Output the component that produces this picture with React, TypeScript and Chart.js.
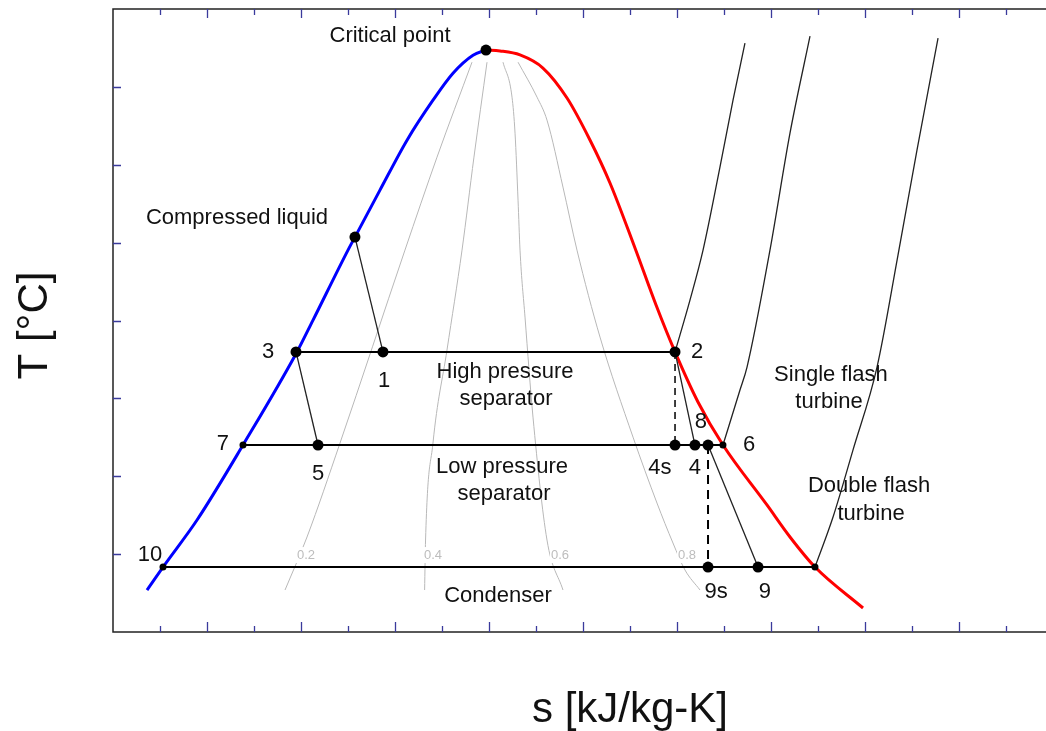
import { useEffect, useRef } from "react";
import { Chart, registerables } from "chart.js";

Chart.register(...registerables);

// ---- axes (entropy s, temperature T; arbitrary units, no tick labels shown) ----
const S_MIN = 0;
const S_MAX = 11;
const T_MIN = 0;
const T_MAX = 8;
const sMajorTicks = [1, 2, 3, 4, 5, 6, 7, 8, 9, 10];
const sMinorTicks = [0.5, 1.5, 2.5, 3.5, 4.5, 5.5, 6.5, 7.5, 8.5, 9.5, 10.5];
const tTicks = [1, 2, 3, 4, 5, 6, 7];

// ---- saturation dome ----
const liquidS = [0.362, 0.532, 0.894, 1.383, 1.957, 2.128, 2.5, 2.574, 2.84, 3.128, 3.404, 3.617, 3.83, 3.968];
const liquidT = [0.539, 0.834, 1.438, 2.401, 3.596, 4.005, 4.904, 5.071, 5.674, 6.316, 6.829, 7.176, 7.407, 7.473];
const vaporS = [3.968, 4.117, 4.33, 4.574, 4.83, 5.074, 5.287, 5.553, 5.777, 5.979, 6.223, 6.489, 6.957, 7.202, 7.468, 7.979];
const vaporT = [7.473, 7.461, 7.41, 7.242, 6.857, 6.318, 5.766, 4.931, 4.199, 3.596, 2.953, 2.401, 1.631, 1.22, 0.834, 0.308];

// ---- constant-quality lines ----
const q2S = [3.819, 3.447, 3.106, 2.415, 2.064, 1.83];
const q2T = [7.317, 6.098, 4.904, 2.426, 1.22, 0.539];
const q4S = [3.979, 3.84, 3.713, 3.553, 3.404, 3.325, 3.315];
const q4T = [7.317, 6.098, 4.904, 3.62, 2.426, 1.181, 0.539];
const q6S = [4.149, 4.245, 4.277, 4.309, 4.33, 4.383, 4.468, 4.617, 4.787];
const q6T = [7.317, 6.868, 6.406, 5.546, 4.904, 4.044, 2.76, 1.181, 0.539];
const q8S = [4.309, 4.511, 4.617, 4.787, 4.936, 5.181, 5.532, 5.787, 5.957, 6.085, 6.245];
const q8T = [7.317, 6.868, 6.573, 5.713, 4.904, 3.787, 2.503, 1.656, 1.143, 0.796, 0.539];

// ---- isobars in superheated region ----
const hpIsobarS = [5.979, 6.138, 6.277, 6.457, 6.596, 6.723];
const hpIsobarT = [3.596, 4.262, 4.904, 5.969, 6.829, 7.561];
const lpIsobarS = [6.489, 6.67, 6.745, 6.989, 7.202, 7.415];
const lpIsobarT = [2.401, 3.107, 3.402, 4.904, 6.406, 7.651];
const condIsobarS = [7.468, 7.66, 7.872, 8.128, 8.351, 8.553, 8.777];
const condIsobarT = [0.834, 1.476, 2.336, 3.402, 4.84, 6.187, 7.625];

// ---- process segments ----
const flash1S = [2.574, 2.872];
const flash1T = [5.071, 3.596];
const flash2S = [1.947, 2.181];
const flash2T = [3.596, 2.401];
const hpTurbineS = [5.979, 6.191];
const hpTurbineT = [3.596, 2.401];
const lpTurbineS = [6.33, 6.862];
const lpTurbineT = [2.401, 0.834];
const hpIsentropicS = [5.979, 5.979];
const hpIsentropicT = [3.596, 2.401];
const lpIsentropicS = [6.33, 6.33];
const lpIsentropicT = [2.401, 0.834];
const hpSeparatorS = [1.947, 5.979];
const hpSeparatorT = [3.596, 3.596];
const lpSeparatorS = [1.383, 6.489];
const lpSeparatorT = [2.401, 2.401];
const condenserS = [0.532, 7.468];
const condenserT = [0.834, 0.834];

// ---- state points ----
const bigStateS = [3.968, 2.574, 1.947, 2.872, 5.979, 2.181, 5.979, 6.191, 6.33, 6.33, 6.862];
const bigStateT = [7.473, 5.071, 3.596, 3.596, 3.596, 2.401, 2.401, 2.401, 2.401, 0.834, 0.834];
const smallStateS = [1.383, 6.489, 0.532, 7.468];
const smallStateT = [2.401, 2.401, 0.834, 0.834];

// ---- annotations ----
const labelText = [
  "Critical point", "Compressed liquid", "3", "1", "2", "High pressure", "separator",
  "7", "5", "Low pressure", "separator", "4s", "4", "8", "6",
  "Single flash", "turbine", "Double flash", "turbine", "10", "Condenser", "9s", "9",
];
const labelS = [
  2.947, 1.319, 1.649, 2.883, 6.213, 4.17, 4.181,
  1.17, 2.181, 4.138, 4.16, 5.819, 6.191, 6.255, 6.766,
  7.638, 7.617, 8.043, 8.064, 0.394, 4.096, 6.415, 6.936,
];
const labelT = [
  7.658, 5.315, 3.596, 3.222, 3.596, 3.338, 2.991,
  2.413, 2.028, 2.118, 1.772, 2.105, 2.105, 2.696, 2.401,
  3.299, 2.953, 1.874, 1.515, 0.988, 0.462, 0.513, 0.513,
];
const qualityText = ["0.2", "0.4", "0.6", "0.8"];
const qualityS = [2.053, 3.404, 4.755, 6.106];
const qualityT = [0.988, 0.988, 0.988, 0.988];

const xTitle = "s [kJ/kg-K]";
const yTitle = "T [°C]";

const FONT = "Arial, 'Liberation Sans', sans-serif";

function pts(s: number[], t: number[]) {
  return s.map((v, i) => ({ x: v, y: t[i] }));
}

function lineDs(s: number[], t: number[], color: string, width: number, smooth = false, dash: number[] = [], order = 5) {
  return {
    data: pts(s, t),
    showLine: true,
    borderColor: color,
    borderWidth: width,
    borderDash: dash,
    pointRadius: 0,
    cubicInterpolationMode: smooth ? "monotone" : "default",
    tension: 0,
    fill: false,
    order,
  };
}

const overlay = {
  id: "overlay",
  afterDatasetsDraw(chart: any) {
    const { ctx, chartArea, scales } = chart;
    const { left, right, top, bottom } = chartArea;
    const xs = scales.x;
    const ys = scales.y;
    ctx.save();

    // quality labels with white background
    ctx.font = `13px ${FONT}`;
    ctx.textAlign = "center";
    ctx.textBaseline = "middle";
    qualityText.forEach((txt, i) => {
      const px = xs.getPixelForValue(qualityS[i]);
      const py = ys.getPixelForValue(qualityT[i]);
      const w = ctx.measureText(txt).width;
      ctx.fillStyle = "#fff";
      ctx.fillRect(px - w / 2 - 1, py - 8, w + 2, 16);
      ctx.fillStyle = "#bdbdbd";
      ctx.fillText(txt, px, py);
    });

    // annotation labels
    ctx.font = `22px ${FONT}`;
    ctx.fillStyle = "#111";
    labelText.forEach((txt, i) => {
      ctx.fillText(txt, xs.getPixelForValue(labelS[i]), ys.getPixelForValue(labelT[i]));
    });

    // frame
    ctx.strokeStyle = "#222";
    ctx.lineWidth = 1.5;
    ctx.strokeRect(left, top, right - left, bottom - top);

    // ticks
    ctx.strokeStyle = "#3a3a9c";
    ctx.lineWidth = 1.3;
    ctx.beginPath();
    sMajorTicks.forEach((v) => {
      const px = Math.round(xs.getPixelForValue(v)) + 0.5;
      ctx.moveTo(px, bottom);
      ctx.lineTo(px, bottom - 10);
      ctx.moveTo(px, top);
      ctx.lineTo(px, top + 9);
    });
    sMinorTicks.forEach((v) => {
      const px = Math.round(xs.getPixelForValue(v)) + 0.5;
      ctx.moveTo(px, bottom);
      ctx.lineTo(px, bottom - 6);
      ctx.moveTo(px, top);
      ctx.lineTo(px, top + 6);
    });
    tTicks.forEach((v) => {
      const py = Math.round(ys.getPixelForValue(v)) + 0.5;
      ctx.moveTo(left, py);
      ctx.lineTo(left + 8, py);
    });
    ctx.stroke();

    // axis titles
    ctx.fillStyle = "#111";
    ctx.font = `42px ${FONT}`;
    ctx.textAlign = "center";
    ctx.textBaseline = "middle";
    ctx.fillText(xTitle, (left + right) / 2, 710);
    ctx.save();
    ctx.translate(35, (top + bottom) / 2 + 5);
    ctx.rotate(-Math.PI / 2);
    ctx.fillText(yTitle, 0, 0);
    ctx.restore();

    ctx.restore();
  },
};

export default function App() {
  const ref = useRef<HTMLCanvasElement | null>(null);

  useEffect(() => {
    if (!ref.current) return;
    const gray = "#b8b8b8";
    const chart = new Chart(ref.current, {
      type: "scatter",
      data: {
        datasets: [
          { data: pts(bigStateS, bigStateT), pointRadius: 5.5, pointBackgroundColor: "#000", pointBorderWidth: 0, showLine: false, order: 0 },
          { data: pts(smallStateS, smallStateT), pointRadius: 3.5, pointBackgroundColor: "#000", pointBorderWidth: 0, showLine: false, order: 0 },
          lineDs(hpSeparatorS, hpSeparatorT, "#000", 2, false, [], 1),
          lineDs(lpSeparatorS, lpSeparatorT, "#000", 2, false, [], 1),
          lineDs(condenserS, condenserT, "#000", 2, false, [], 1),
          lineDs(flash1S, flash1T, "#222", 1.3, false, [], 2),
          lineDs(flash2S, flash2T, "#222", 1.3, false, [], 2),
          lineDs(hpTurbineS, hpTurbineT, "#222", 1.3, false, [], 2),
          lineDs(lpTurbineS, lpTurbineT, "#222", 1.3, false, [], 2),
          lineDs(hpIsentropicS, hpIsentropicT, "#000", 1.5, false, [7, 5], 2),
          lineDs(lpIsentropicS, lpIsentropicT, "#000", 2, false, [9, 6], 2),
          lineDs(hpIsobarS, hpIsobarT, "#222", 1.3, true, [], 3),
          lineDs(lpIsobarS, lpIsobarT, "#222", 1.3, true, [], 3),
          lineDs(condIsobarS, condIsobarT, "#222", 1.3, true, [], 3),
          lineDs(liquidS, liquidT, "#0000ff", 3, true, [], 4),
          lineDs(vaporS, vaporT, "#ff0000", 3, true, [], 4),
          lineDs(q2S, q2T, gray, 1, true, [], 6),
          lineDs(q4S, q4T, gray, 1, true, [], 6),
          lineDs(q6S, q6T, gray, 1, true, [], 6),
          lineDs(q8S, q8T, gray, 1, true, [], 6),
        ] as any,
      },
      options: {
        responsive: false,
        animation: false,
        devicePixelRatio: 1,
        events: [],
        layout: { padding: { left: 113, top: 9, right: 13, bottom: 99 } },
        plugins: { legend: { display: false }, tooltip: { enabled: false } },
        scales: {
          x: { type: "linear", min: S_MIN, max: S_MAX, display: false },
          y: { type: "linear", min: T_MIN, max: T_MAX, display: false },
        },
      },
      plugins: [overlay],
    });
    return () => chart.destroy();
  }, []);

  return (
    <div style={{ position: "fixed", left: 0, top: 0, width: 1046, height: 731, overflow: "hidden", background: "#fff" }}>
      <canvas ref={ref} width={1160} height={731} style={{ display: "block", width: 1160, height: 731 }} />
    </div>
  );
}
